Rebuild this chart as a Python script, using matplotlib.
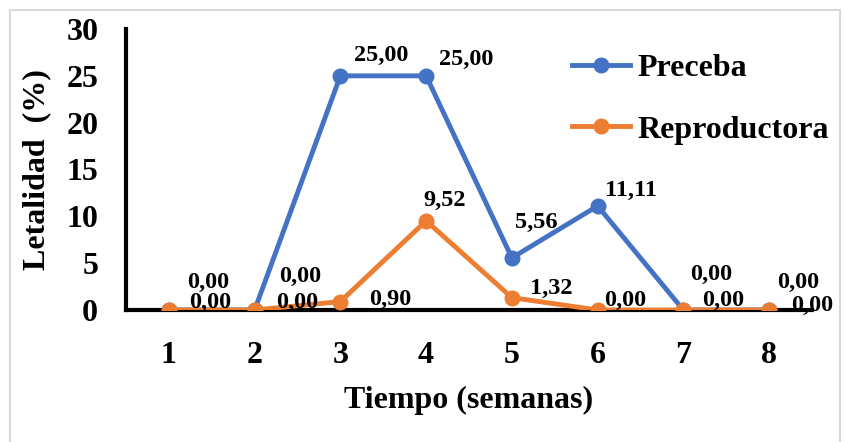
import matplotlib
matplotlib.use("Agg")
import matplotlib.pyplot as plt
from matplotlib.patches import Rectangle

plt.rcParams['font.family'] = ['Liberation Serif', 'DejaVu Serif']
plt.rcParams['font.weight'] = 'bold'

weeks = [1, 2, 3, 4, 5, 6, 7, 8]
preceba = [0.00, 0.00, 25.00, 25.00, 5.56, 11.11, 0.00, 0.00]
reproductora = [0.00, 0.00, 0.90, 9.52, 1.32, 0.00, 0.00, 0.00]
series_names = ["Preceba", "Reproductora"]
yticks = [0, 5, 10, 15, 20, 25, 30]

# label offsets in pixels (dx right, dy up) relative to each point
off_p = [(39, 28), (46, 34), (41, 20), (40, 16), (24, 35), (33, 15), (28, 36), (29, 28)]
off_r = [(41, 8), (43, 8), (50, 2), (19, 20), (39, 9), (28, 10), (40, 10), (43, 5)]

blue = "#4472C4"
orange = "#ED7D31"

fig = plt.figure(figsize=(8.44, 4.42), dpi=100)
W, H = 844, 442
ax = fig.add_axes([126 / W, 1 - 310 / H, (812 - 126) / W, (310 - 29) / H])

ax.plot(weeks, preceba, color=blue, lw=3.5, marker='o', ms=10.5, zorder=3,
        label=series_names[0], solid_joinstyle='round')
ax.plot(weeks, reproductora, color=orange, lw=3.5, marker='o', ms=10.5, zorder=4,
        label=series_names[1], solid_joinstyle='round')

def fmt(v):
    return f"{v:.2f}".replace('.', ',')

for x, v, (dx, dy) in zip(weeks, preceba, off_p):
    ax.annotate(fmt(v), (x, v), xytext=(dx, dy), textcoords='offset pixels',
                ha='center', va='center', fontsize=17.5, fontweight='bold', zorder=6)
for x, v, (dx, dy) in zip(weeks, reproductora, off_r):
    ax.annotate(fmt(v), (x, v), xytext=(dx, dy), textcoords='offset pixels',
                ha='center', va='center', fontsize=17.5, fontweight='bold', zorder=6)

ax.set_xlim(0.5, 8.5)
ax.set_ylim(0, 30)
ax.set_xticks(weeks)
ax.set_xticklabels([str(w) for w in weeks])
ax.set_yticks(yticks)
ax.tick_params(axis='both', length=0, labelsize=23)
ax.tick_params(axis='y', pad=20)
ax.tick_params(axis='x', pad=22)
for lab in ax.get_xticklabels() + ax.get_yticklabels():
    lab.set_fontweight('bold')

for s in ['top', 'right']:
    ax.spines[s].set_visible(False)
for s in ['left', 'bottom']:
    ax.spines[s].set_linewidth(3)
    ax.spines[s].set_color('black')
    ax.spines[s].set_zorder(2)

fig.text(469 / W, 1 - 400 / H, "Tiempo (semanas)", ha='center', va='center',
         fontsize=23, fontweight='bold')
fig.text(37 / W, 1 - 170 / H, "Letalidad  (%)", ha='center', va='center',
         rotation=90, fontsize=23, fontweight='bold')

leg = ax.legend(loc='upper left', bbox_to_anchor=(572 / W, 1 - 54 / H),
                bbox_transform=fig.transFigure, frameon=False,
                handlelength=1.8, handletextpad=0.25, labelspacing=1.0,
                borderpad=0, borderaxespad=0, prop={'weight': 'bold', 'size': 23})

fig.patches.append(Rectangle((10 / W, -0.05), 830 / W, 1.05 - 10 / H,
                             transform=fig.transFigure, fill=False,
                             edgecolor='#d9d9d9', lw=1.5))

fig.savefig("out.png", dpi=100)
